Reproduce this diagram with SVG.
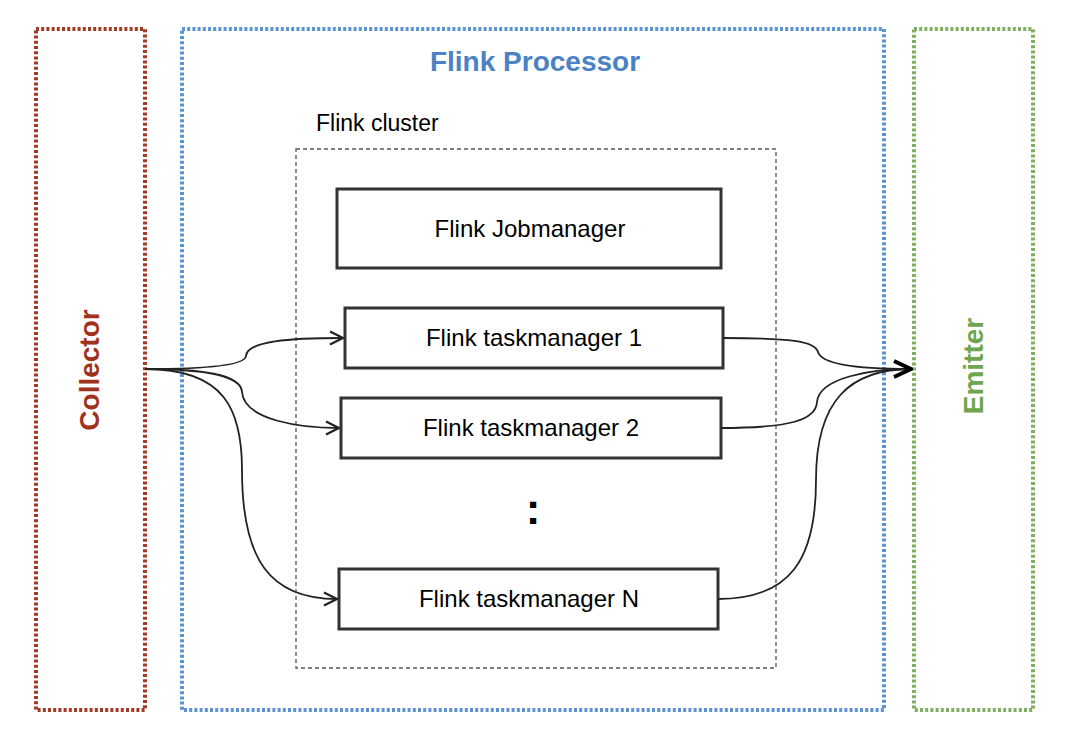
<svg xmlns="http://www.w3.org/2000/svg" width="1070" height="748" viewBox="0 0 1070 748">
<style>
.zone{fill:none;stroke-width:4;stroke-dasharray:3 2.2}
.box{fill:#fff;stroke:#333;stroke-width:3}
.lbl{font-family:"Liberation Sans",Arial,sans-serif;font-size:24px;fill:#000;text-anchor:middle}
.title{font-family:"Liberation Sans",Arial,sans-serif;font-size:28px;font-weight:bold;text-anchor:middle}
.conn{fill:none;stroke:#222;stroke-width:1.8}
</style>
<defs>
<marker id="open" viewBox="0 0 16 16" refX="15" refY="8" markerWidth="16" markerHeight="16" markerUnits="userSpaceOnUse" orient="auto">
<path d="M2,1.5 L15,8 L2,14.5" fill="none" stroke="#222" stroke-width="2.2"/>
</marker>
<marker id="bold" viewBox="0 0 22 22" refX="21" refY="11" markerWidth="22" markerHeight="22" markerUnits="userSpaceOnUse" orient="auto">
<path d="M3,3 L20,11 L3,19" fill="none" stroke="#000" stroke-width="4" stroke-linejoin="miter"/>
</marker>
</defs>
<g id="collector">
<rect class="zone" x="36" y="29" width="109" height="681" stroke="#a33a26"/>
<text class="title" fill="#a0311c" transform="translate(99,370) rotate(-90)">Collector</text>
</g>
<g id="flink-processor">
<rect class="zone" x="182" y="29" width="702" height="681" stroke="#5b93d3"/>
<text class="title" fill="#4a82c4" x="535" y="71">Flink Processor</text>
</g>
<g id="emitter">
<rect class="zone" x="914" y="29" width="119" height="681" stroke="#7fb062"/>
<text class="title" fill="#70a54f" transform="translate(983,366) rotate(-90)">Emitter</text>
</g>
<g id="flink-cluster">
<rect x="296" y="149" width="480" height="519" fill="none" stroke="#555" stroke-width="1.3" stroke-dasharray="4 3"/>
<text class="lbl" x="316" y="131" style="text-anchor:start;font-size:23px">Flink cluster</text>
</g>
<g id="jobmanager">
<rect class="box" x="337" y="189" width="384" height="79"/>
<text class="lbl" x="530" y="237">Flink Jobmanager</text>
</g>
<g id="taskmanager1">
<rect class="box" x="345" y="308" width="378" height="60"/>
<text class="lbl" x="534" y="346">Flink taskmanager 1</text>
</g>
<g id="taskmanager2">
<rect class="box" x="341" y="398" width="380" height="60"/>
<text class="lbl" x="531" y="436">Flink taskmanager 2</text>
</g>
<g id="ellipsis">
<text x="533" y="524" style="font-family:'Liberation Sans',Arial,sans-serif;font-size:44px;font-weight:bold;text-anchor:middle">:</text>
</g>
<g id="taskmanagerN">
<rect class="box" x="339" y="569" width="379" height="60"/>
<text class="lbl" x="529" y="607">Flink taskmanager N</text>
</g>
<g id="connectors">
<path class="conn" marker-end="url(#open)" d="M145,369 C200,369 245,366 246,356 C247,341 290,338 343,338"/>
<path class="conn" marker-end="url(#open)" d="M145,369 C200,369 241,374 242,392 C244,420 300,428 339,428"/>
<path class="conn" marker-end="url(#open)" d="M145,369 C225,369 242,410 242,470 C242,560 270,599 337,599"/>
<path class="conn" d="M723,338 C790,338 815,341 818,352 C822,366 870,369 910,369"/>
<path class="conn" d="M721,428 C790,428 816,420 817,402 C819,378 870,369 910,369"/>
<path class="conn" marker-end="url(#bold)" d="M718,599 C790,599 816,560 816,480 C816,400 850,369 912,369"/>
</g>
</svg>
